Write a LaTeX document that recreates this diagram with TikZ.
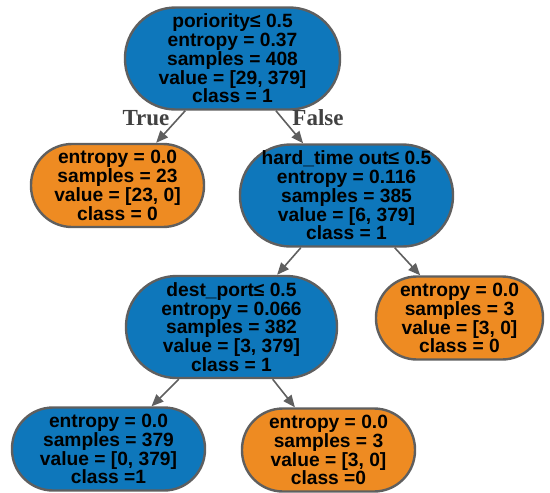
\documentclass[tikz,border=0pt]{standalone}
\usepackage{fontspec}
\setmainfont{Liberation Sans}
\newfontfamily\labelfont{Liberation Serif}
\usetikzlibrary{arrows.meta}

\definecolor{splitblue}{RGB}{14,119,187}
\definecolor{leaforange}{RGB}{238,139,34}
\definecolor{edgegray}{RGB}{95,95,95}
\definecolor{labelgray}{RGB}{65,65,65}

\tikzset{
  treenode/.style={rectangle, draw=edgegray, line width=2.4pt,
    inner sep=0pt, align=center, text=black,
    font=\fontsize{19.2}{18.8}\selectfont\bfseries},
  splitnode/.style={treenode, fill=splitblue, minimum height=102pt, rounded corners=50.5pt},
  leafnode/.style={treenode, fill=leaforange, minimum height=83pt, rounded corners=41pt},
  branch/.style={draw=edgegray, line width=1.6pt, sharp corners,
    -{Triangle[length=12pt,width=10pt]}},
  branchlabel/.style={text=labelgray,
    font=\labelfont\fontsize{23}{24}\selectfont\bfseries}
}

\begin{document}
\begin{tikzpicture}[x=1pt,y=-1pt]
\useasboundingbox (0,0) rectangle (550,493);

% split nodes
\node[splitnode, minimum width=215pt] (root) at (232.5,58.5)
  {poriority≤ 0.5\\entropy = 0.37\\samples = 408\\value = [29, 379]\\class = 1};
\node[splitnode, minimum width=213pt] (hard) at (346.5,195.5)
  {hard\_time out≤ 0.5\\entropy = 0.116\\samples = 385\\value = [6, 379]\\class = 1};
\node[splitnode, minimum width=211pt] (dest) at (231.5,327)
  {dest\_port≤ 0.5\\entropy = 0.066\\samples = 382\\value = [3, 379]\\class = 1};

% leaves
\node[leafnode, minimum width=173pt] (leafA) at (117.5,185.5)
  {entropy = 0.0\\samples = 23\\value = [23, 0]\\class = 0};
\node[leafnode, minimum width=167pt] (leafB) at (459.5,318)
  {entropy = 0.0\\samples = 3\\value = [3, 0]\\class = 0};
\node[leafnode, fill=splitblue, minimum width=193pt] (leafC) at (108.5,449)
  {entropy = 0.0\\samples = 379\\value = [0, 379]\\class =1};
\node[leafnode, minimum width=173pt] (leafD) at (328.5,450)
  {entropy = 0.0\\samples = 3\\value = [3, 0]\\class =0};

% branches
\draw[branch] (root) -- (leafA);
\draw[branch] (root) -- (hard);
\draw[branch] (hard) -- (dest);
\draw[branch] (hard) -- (leafB);
\draw[branch] (dest) -- (leafC);
\draw[branch] (dest) -- (leafD);

% branch labels
\node[branchlabel] (truelbl) at (146,118) {True};
\node[branchlabel] (falselbl) at (318,118) {False};
\end{tikzpicture}
\end{document}
